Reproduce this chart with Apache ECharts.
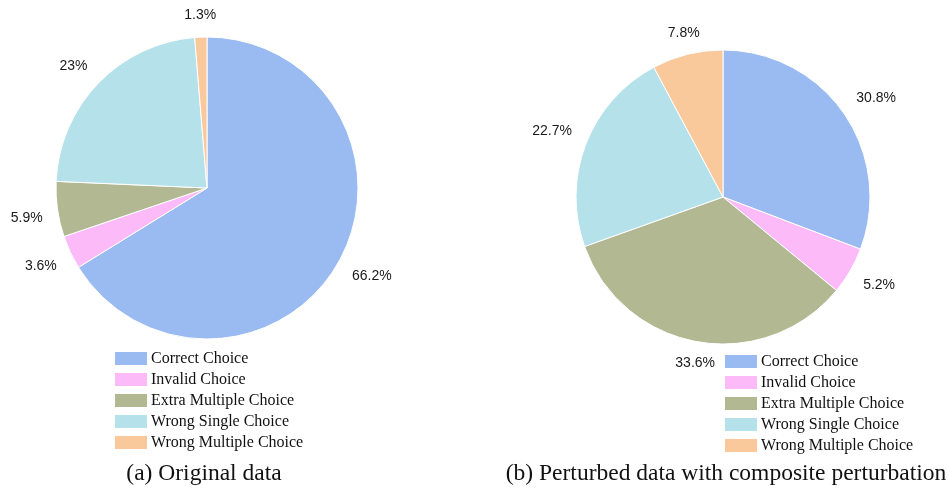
<!DOCTYPE html>
<html>
<head>
<meta charset="utf-8">
<script src="https://cdn.jsdelivr.net/npm/echarts@6/dist/echarts.min.js"></script>
<style>html,body{margin:0;padding:0;background:#fff;}#c{width:949px;height:489px;}</style>
</head>
<body>
<div id="c"></div>
<script>
var categories = ['Correct Choice', 'Invalid Choice', 'Extra Multiple Choice', 'Wrong Single Choice', 'Wrong Multiple Choice'];
var colors = ['#9abaf2', '#fcbaf8', '#b2b891', '#b5e2ea', '#f9c89b'];
var originalValues = [66.2, 3.6, 5.9, 23, 1.3];
var perturbedValues = [30.8, 5.2, 33.6, 22.7, 7.8];
var captions = ['(a) Original data', '(b) Perturbed data with composite perturbation'];

function mk(vals) {
  return categories.map(function (n, i) { return { name: n, value: vals[i], itemStyle: { color: colors[i] } }; });
}
// mid-angle of a slice (fraction of the full turn, clockwise from 12 o'clock), from the data
function midFrac(vals, idx) {
  var tot = vals.reduce(function (a, b) { return a + b; }, 0);
  var cum = 0;
  for (var i = 0; i < idx; i++) cum += vals[i];
  return (cum + vals[idx] / 2) / tot;
}
function pie(vals, center, r) {
  return {
    type: 'pie', center: center, radius: [0, r], startAngle: 90, clockwise: true,
    silent: true, animation: false, avoidLabelOverlap: false,
    itemStyle: { borderColor: '#ffffff', borderWidth: 1 },
    label: { show: true, position: 'outside', alignTo: 'none', distanceToLabelLine: 0,
      color: '#1a1a1a', fontFamily: 'Liberation Sans, Arial, sans-serif', fontSize: 14,
      formatter: function (p) { return p.value + '%'; } },
    labelLine: { show: false, length: Math.round(r * 0.1), length2: 0 },
    labelLayout: function (p) {
      var a = 2 * Math.PI * midFrac(vals, p.dataIndex);
      var s = Math.sin(a), c = Math.cos(a);
      return {
        align: Math.abs(s) < 0.3 ? 'center' : (s > 0 ? 'left' : 'right'),
        verticalAlign: c > 0 ? 'bottom' : 'top'
      };
    },
    emphasis: { disabled: true },
    data: mk(vals)
  };
}
var legendCommon = {
  orient: 'vertical', icon: 'rect', itemWidth: 34, itemHeight: 15, itemGap: 4,
  selectedMode: false, data: categories,
  textStyle: { fontFamily: 'Liberation Serif, Times New Roman, serif', fontSize: 16, color: '#111', padding: [0, 0, 0, -2], lineHeight: 16 },
  padding: 0
};
var capStyle = { fontFamily: 'Liberation Serif, Times New Roman, serif', fontSize: 23.5, fontWeight: 'normal', color: '#111' };
var chart = echarts.init(document.getElementById('c'), null, { renderer: 'canvas' });
chart.setOption({
  backgroundColor: '#ffffff',
  animation: false,
  legend: [
    Object.assign({}, legendCommon, { left: 113, top: 350 }),
    Object.assign({}, legendCommon, { left: 723, top: 353 })
  ],
  title: [
    { text: captions[0], left: 204, top: 462, textAlign: 'center', textStyle: capStyle, padding: 0 },
    { text: captions[1], left: 726, top: 462, textAlign: 'center', textStyle: capStyle, padding: 0 }
  ],
  series: [
    pie(originalValues, [207, 188], 151),
    pie(perturbedValues, [723, 197], 147)
  ]
});
</script>
</body>
</html>
